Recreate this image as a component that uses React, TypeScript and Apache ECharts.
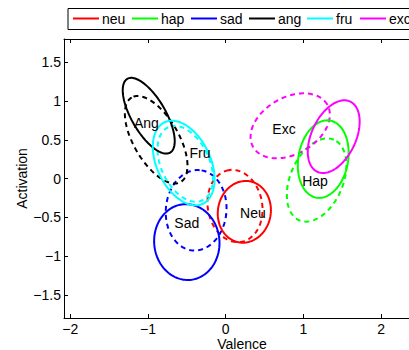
import React, { useEffect, useRef } from "react";
import * as echarts from "echarts";

// Legend / series
const emotions = ["neu", "hap", "sad", "ang", "fru", "exc"];
const colors = ["#ff0000", "#00ff00", "#0000ff", "#000000", "#00ffff", "#ff00ff"];

// Solid ellipses: centre, semi-axes, rotation (deg)
const solidCx = [0.24, 1.255, -0.5, -0.99, -0.54, 1.39];
const solidCy = [-0.43, 0.25, -0.82, 0.81, 0.2, 0.54];
const solidA = [0.4, 0.505, 0.49, 0.55, 0.58, 0.5];
const solidB = [0.34, 0.32, 0.42, 0.22, 0.345, 0.285];
const solidAng = [80, 80, 95, 120, 115, 65];

// Dashed ellipses
const dashCx = [0.12, 1.17, -0.38, -0.894, -0.52, 0.83];
const dashCy = [-0.355, -0.02, -0.41, 0.5, 0.19, 0.68];
const dashA = [0.47, 0.565, 0.52, 0.63, 0.52, 0.55];
const dashB = [0.35, 0.34, 0.39, 0.29, 0.31, 0.365];
const dashAng = [100, 67, 85, 120, 115, 30];

// Text labels
const labelNames = ["Neu", "Hap", "Sad", "Ang", "Fru", "Exc"];
const labelX = [0.35, 1.15, -0.5, -1.02, -0.33, 0.75];
const labelY = [-0.445, -0.035, -0.57, 0.71, 0.335, 0.645];

const xTicks = [-2, -1, 0, 1, 2];
const yTicks = [-1.5, -1, -0.5, 0, 0.5, 1, 1.5];
const xTitle = "Valence";
const yTitle = "Activation";

const FONT = "Liberation Sans";
const FS = 14;
const fmt = (v: number) => (v < 0 ? "\u2212" + Math.abs(v) : String(v));

function ellipseSeries(
  cx: number[], cy: number[], a: number[], b: number[], ang: number[], dashed: boolean
) {
  return emotions.map((name, i) => ({
    type: "custom",
    name: name + (dashed ? "-d" : ""),
    coordinateSystem: "cartesian2d",
    data: [[cx[i], cy[i], a[i], b[i], ang[i]]],
    z: dashed ? 2 : 3,
    renderItem: (params: any, api: any) => {
      const x0 = api.value(0), y0 = api.value(1);
      const ra = api.value(2), rb = api.value(3);
      const th = (api.value(4) * Math.PI) / 180;
      const pts: number[][] = [];
      for (let k = 0; k <= 120; k++) {
        const t = (k / 120) * Math.PI * 2;
        const x = x0 + ra * Math.cos(t) * Math.cos(th) - rb * Math.sin(t) * Math.sin(th);
        const y = y0 + ra * Math.cos(t) * Math.sin(th) + rb * Math.sin(t) * Math.cos(th);
        pts.push(api.coord([x, y]));
      }
      return {
        type: "polyline",
        shape: { points: pts },
        style: {
          fill: "none",
          stroke: colors[i],
          lineWidth: 2,
          lineDash: dashed ? [5, 4] : null,
        },
      };
    },
  }));
}

export default function App() {
  const ref = useRef<HTMLDivElement>(null);
  useEffect(() => {
    if (!ref.current) return;
    const chart = echarts.init(ref.current, undefined, { renderer: "svg" });

    const legendStart = [73, 132, 191, 249, 307, 360];
    const graphic: any[] = [
      {
        type: "rect",
        shape: { x: 68, y: 8.5, width: 400, height: 21 },
        style: { fill: "#fff", stroke: "#000", lineWidth: 1 },
        z: 10,
      },
      {
        type: "text",
        x: 242,
        y: 343.5,
        style: { text: xTitle, fill: "#000", font: `${FS}px ${FONT}`, lineHeight: 13, align: "center", verticalAlign: "middle" },
        z: 11,
      },
      {
        type: "text",
        x: 21.5,
        y: 178.5,
        rotation: Math.PI / 2,
        style: { text: yTitle, fill: "#000", font: `${FS}px ${FONT}`, align: "center", verticalAlign: "middle" },
        z: 11,
      },
    ];
    emotions.forEach((name, i) => {
      const x = legendStart[i];
      graphic.push({
        type: "line",
        shape: { x1: x, y1: 18.5, x2: x + 26, y2: 18.5 },
        style: { stroke: colors[i], lineWidth: 2 },
        z: 11,
      });
      graphic.push({
        type: "text",
        x: x + 29,
        y: 19,
        style: {
          text: name,
          fill: "#000",
          font: `${FS}px ${FONT}`,
          verticalAlign: "middle",
          align: "left",
        },
        z: 11,
      });
    });

    const axisCommon = {
      axisLine: { show: true, onZero: false, lineStyle: { color: "#000", width: 1 } },
      splitLine: { show: false },
    };

    chart.setOption({
      animation: false,
      backgroundColor: "#fff",
      grid: { left: 64, top: 39, width: 356, height: 279, outerBoundsMode: "none", containLabel: false },
      xAxis: [
        {
          type: "value",
          min: -2.08,
          max: 2.5,
          position: "bottom",
          ...axisCommon,
          axisTick: { inside: true, length: 4, customValues: xTicks, lineStyle: { color: "#000" } },
          axisLabel: {
            customValues: xTicks,
            formatter: fmt,
            color: "#000",
            fontFamily: FONT,
            fontSize: FS,
            lineHeight: 13,
            margin: 4,
          },
        },
        {
          type: "value",
          min: -2.08,
          max: 2.5,
          position: "top",
          ...axisCommon,
          axisTick: { inside: true, length: 4, customValues: xTicks, lineStyle: { color: "#000" } },
          axisLabel: { show: false },
        },
      ],
      yAxis: [
        {
          type: "value",
          min: -1.8,
          max: 1.8,
          ...axisCommon,
          axisTick: { inside: true, length: 4, customValues: yTicks, lineStyle: { color: "#000" } },
          axisLabel: {
            customValues: yTicks,
            formatter: fmt,
            color: "#000",
            fontFamily: FONT,
            fontSize: FS,
            margin: 3,
          },
        },
      ],
      series: [
        ...ellipseSeries(dashCx, dashCy, dashA, dashB, dashAng, true),
        ...ellipseSeries(solidCx, solidCy, solidA, solidB, solidAng, false),
        {
          type: "custom",
          name: "labels",
          coordinateSystem: "cartesian2d",
          z: 5,
          data: labelNames.map((n, i) => [labelX[i], labelY[i], i]),
          renderItem: (params: any, api: any) => {
            const p = api.coord([api.value(0), api.value(1)]);
            return {
              type: "text",
              x: p[0],
              y: p[1],
              style: {
                text: labelNames[api.value(2)],
                fill: "#000",
                font: `${FS}px ${FONT}`,
                align: "center",
                verticalAlign: "middle",
              },
            };
          },
        },
      ],
      graphic,
    });
    return () => chart.dispose();
  }, []);
  return (
    <div
      ref={ref}
      style={{ position: "absolute", left: 0, top: 0, width: 409, height: 350 }}
    />
  );
}
